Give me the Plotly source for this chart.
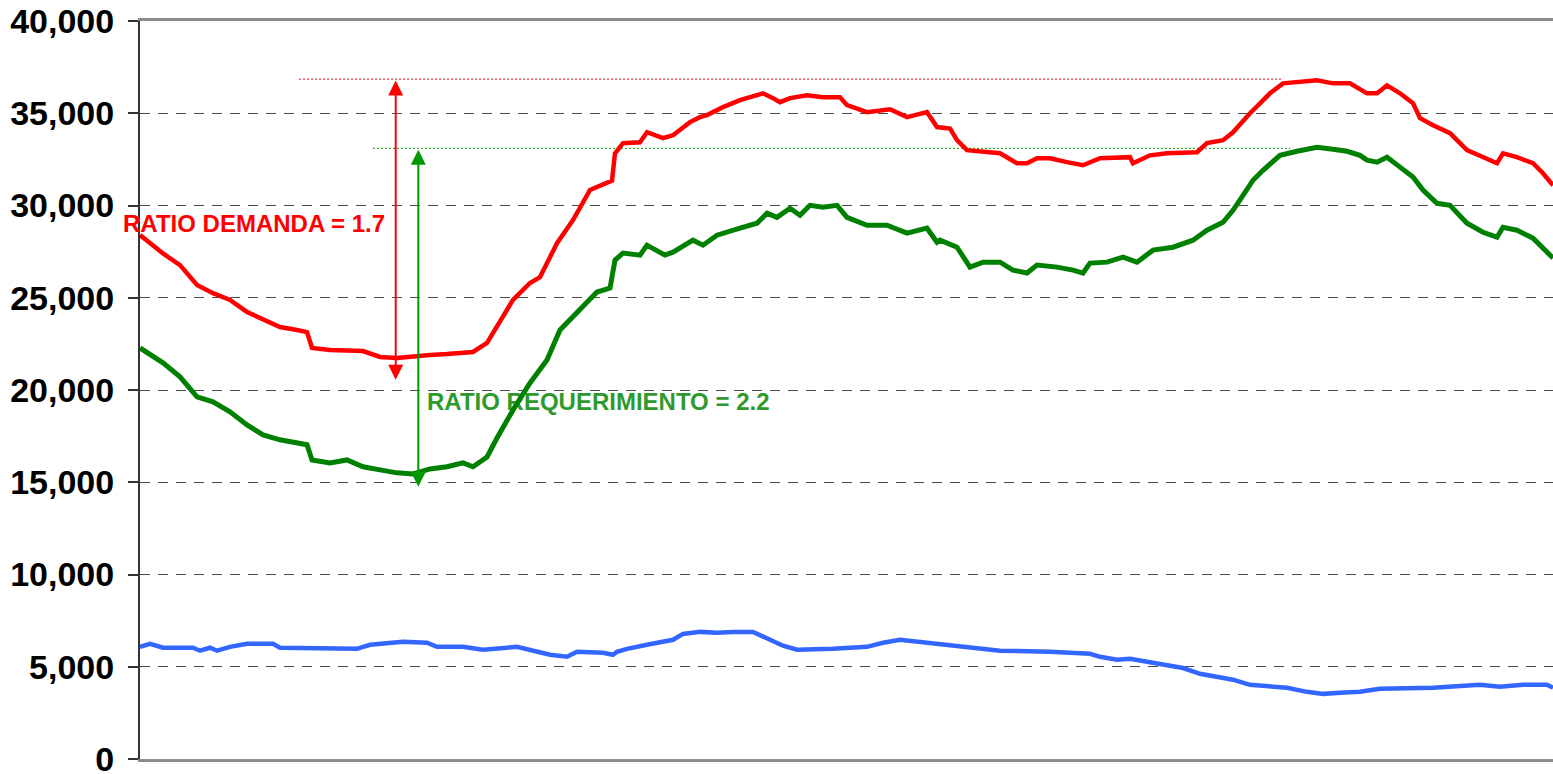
import plotly.graph_objects as go

# ---------------- data (time index 0..1413, values in MW) ----------------
red_t = [0, 23, 40, 57, 73, 90, 107, 123, 140, 157, 167, 172, 190, 223, 240, 257, 273, 290, 307, 323,
         333, 347, 357, 373, 390, 400, 417, 433, 450, 467, 472, 475, 483, 500, 507, 523, 533, 550, 560,
         567, 583, 600, 617, 623, 633, 640, 650, 667, 683, 700, 707, 727, 750, 767, 787, 797, 810, 817,
         827, 843, 860, 877, 887, 897, 910, 927, 943, 960, 977, 990, 993, 1010, 1027, 1043, 1057, 1067,
         1083, 1093, 1103, 1110, 1120, 1130, 1143, 1160, 1177, 1193, 1210, 1227, 1237, 1247, 1260, 1273,
         1280, 1293, 1310, 1327, 1343, 1357, 1363, 1377, 1393, 1403, 1413]
red_v = [28400, 27400, 26770, 25690, 25250, 24880, 24230, 23800, 23410, 23250, 23140, 22280, 22170, 22110,
         21790, 21740, 21840, 21900, 21950, 22000, 22060, 22550, 23410, 24880, 25800, 26120, 27960, 29210,
         30840, 31270, 31350, 32830, 33380, 33430, 33970, 33650, 33810, 34520, 34790, 34900, 35330, 35710,
         35980, 36080, 35820, 35600, 35820, 35980, 35870, 35870, 35440, 35060, 35220, 34790, 35060, 34250,
         34170, 33540, 33000, 32890, 32830, 32290, 32290, 32560, 32560, 32350, 32180, 32560, 32560, 32620,
         32290, 32720, 32830, 32830, 32890, 33380, 33540, 33970, 34620, 35000, 35540, 36080, 36620, 36730,
         36790, 36620, 36620, 36080, 36080, 36510, 36080, 35540, 34730, 34350, 33920, 33000, 32620, 32290,
         32830, 32620, 32290, 31750, 31100]

green_t = [0, 23, 40, 57, 73, 90, 107, 123, 140, 157, 167, 172, 190, 207, 223, 240, 257, 273, 290, 307,
           323, 333, 347, 357, 373, 390, 407, 420, 443, 457, 470, 475, 483, 500, 507, 525, 533, 553, 563,
           577, 600, 617, 627, 637, 650, 660, 670, 683, 697, 707, 727, 747, 767, 787, 797, 800, 817, 830,
           843, 860, 873, 887, 897, 917, 933, 943, 950, 967, 983, 997, 1013, 1033, 1053, 1067, 1083, 1093,
           1103, 1113, 1123, 1140, 1157, 1177, 1193, 1207, 1220, 1227, 1237, 1247, 1260, 1273, 1283, 1297,
           1310, 1327, 1343, 1357, 1363, 1377, 1393, 1403, 1413]
green_v = [22280, 21470, 20710, 19630, 19360, 18820, 18110, 17570, 17300, 17140, 17030, 16210, 16050, 16210,
           15840, 15670, 15510, 15450, 15720, 15840, 16050, 15840, 16370, 17400, 18920, 20380, 21630, 23250,
           24490, 25310, 25520, 27040, 27420, 27310, 27850, 27310, 27470, 28120, 27850, 28390, 28770, 29040,
           29580, 29360, 29850, 29470, 30010, 29900, 30010, 29360, 28930, 28930, 28500, 28770, 28010, 28120,
           27740, 26660, 26930, 26930, 26500, 26340, 26770, 26660, 26500, 26340, 26880, 26930, 27200, 26930,
           27580, 27740, 28120, 28660, 29090, 29740, 30550, 31370, 31910, 32720, 32940, 33160, 33050, 32940,
           32720, 32460, 32350, 32620, 32080, 31540, 30840, 30120, 30010, 29040, 28550, 28280, 28820, 28660,
           28230, 27690, 27150]

blue_t = [0, 10, 23, 53, 60, 70, 77, 90, 107, 133, 140, 190, 217, 230, 263, 287, 297, 323, 343, 377, 397,
          410, 427, 437, 463, 473, 477, 487, 507, 520, 533, 543, 560, 577, 593, 613, 627, 643, 657, 677,
          693, 727, 743, 760, 777, 793, 807, 820, 860, 910, 950, 960, 977, 990, 1010, 1027, 1043, 1060,
          1077, 1093, 1110, 1127, 1147, 1167, 1183, 1200, 1220, 1240, 1293, 1340, 1360, 1383, 1407, 1413]
blue_v = [6080, 6240, 6030, 6030, 5870, 6030, 5870, 6080, 6240, 6240, 6030, 6030, 5970, 6190, 6350, 6300,
          6080, 6080, 5920, 6080, 5810, 5650, 5540, 5810, 5760, 5650, 5810, 5970, 6190, 6300, 6460, 6780,
          6890, 6840, 6890, 6890, 6570, 6140, 5920, 5920, 5970, 6080, 6300, 6460, 6350, 6300, 6190, 6130,
          5870, 5810, 5700, 5540, 5380, 5430, 5220, 5060, 4930, 4620, 4440, 4300, 4020, 3970, 3860, 3640,
          3530, 3590, 3640, 3810, 3860, 4020, 3920, 4020, 4020, 3860]

y_ticks = [0, 5000, 10000, 15000, 20000, 25000, 30000, 35000, 40000]
T_MAX = 1413

# reference levels and ratio arrows
peak_demanda = 36850
peak_requerimiento = 33100
demanda_line_t = [159, 1143]
requer_line_t = [233, 1150]
demanda_arrow = dict(t=255.7, top=36850, bottom=20550)
requer_arrow = dict(t=278.3, top=33100, bottom=14750)
label_demanda = dict(t=-19, v=29050, text="RATIO DEMANDA = 1.7")
label_requer = dict(t=287, v=19250, text="RATIO REQUERIMIENTO = 2.2")

RED = "#FF0000"
GREEN = "#008000"
BLUE = "#3366FF"
FONT = "Liberation Sans, Arial, sans-serif"

fig = go.Figure()

# green label drawn under the lines
fig.add_trace(go.Scatter(
    x=[label_requer["t"]], y=[label_requer["v"]], mode="text",
    text=[label_requer["text"]], textposition="middle right",
    textfont=dict(family=FONT, size=24, color="#2E9A2E", weight="bold"),
    cliponaxis=False, hoverinfo="skip", showlegend=False))

fig.add_trace(go.Scatter(x=blue_t, y=blue_v, mode="lines", line=dict(color=BLUE, width=4.5), showlegend=False))
fig.add_trace(go.Scatter(x=green_t, y=green_v, mode="lines", line=dict(color=GREEN, width=5), showlegend=False))
fig.add_trace(go.Scatter(x=red_t, y=red_v, mode="lines", line=dict(color=RED, width=4.5), showlegend=False))

# dotted reference lines
fig.add_shape(type="line", xref="x", yref="y", x0=demanda_line_t[0], x1=demanda_line_t[1],
              y0=peak_demanda, y1=peak_demanda, layer="below",
              line=dict(color=RED, width=1, dash="2px,2px"))
fig.add_shape(type="line", xref="x", yref="y", x0=requer_line_t[0], x1=requer_line_t[1],
              y0=peak_requerimiento, y1=peak_requerimiento, layer="below",
              line=dict(color="#00A000", width=1, dash="2px,2px"))

# double arrows
for arr, col in [(demanda_arrow, RED), (requer_arrow, "#009900")]:
    fig.add_annotation(x=arr["t"], y=arr["bottom"], ax=arr["t"], ay=arr["top"],
                       xref="x", yref="y", axref="x", ayref="y", text="",
                       showarrow=True, arrowside="end+start", arrowhead=2, startarrowhead=2,
                       arrowsize=1.5, startarrowsize=1.5, arrowwidth=2, arrowcolor=col)

fig.add_annotation(x=label_demanda["t"] / T_MAX, y=label_demanda["v"], xref="paper", yref="y",
                   text=label_demanda["text"], showarrow=False, xanchor="left", yanchor="middle",
                   font=dict(family=FONT, size=24, color=RED, weight="bold"))

fig.update_layout(
    width=1553, height=774,
    margin=dict(l=140, r=0, t=21, b=15, autoexpand=False),
    paper_bgcolor="white", plot_bgcolor="white",
    showlegend=False, hovermode=False,
    xaxis=dict(range=[0, T_MAX], showticklabels=False, showgrid=False, zeroline=False, automargin=False,
               showline=True, linecolor="#8C8C8C", linewidth=3, mirror=True, ticks=""),
    yaxis=dict(range=[0, 40000], tickvals=y_ticks, tickformat=",d", automargin=False,
               showgrid=True, gridcolor="#4A4A4A", gridwidth=1, griddash="10px,8px",
               zeroline=False, showline=True, linecolor="#333333", linewidth=2,
               ticks="outside", ticklen=10, tickwidth=1.5, tickcolor="#333333",
               ticklabelstandoff=7, ticklabeloverflow="allow",
               tickfont=dict(family=FONT, size=34, color="black", weight="bold")),
)

fig.write_html("out.html", config={"displayModeBar": False},
               post_script="document.body.style.margin='0';document.body.style.padding='0';"
                           "document.body.style.overflow='hidden';")
